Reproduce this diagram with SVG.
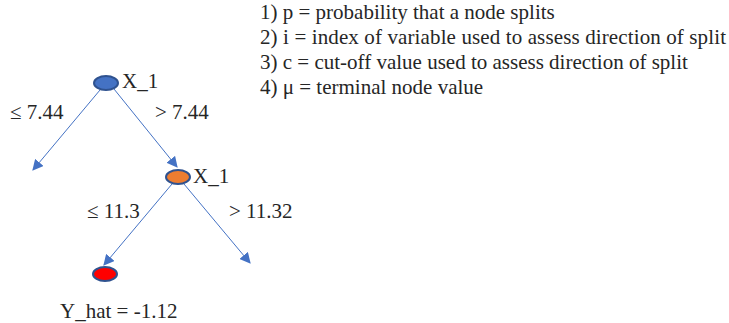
<svg xmlns="http://www.w3.org/2000/svg" width="729" height="323" viewBox="0 0 729 323">
<defs>
<style>
text{font-family:'Liberation Serif','DejaVu Serif',serif;font-size:21px;fill:#262626}
.e{stroke:#2F528F;stroke-width:2}
.c{stroke:#4472C4;stroke-width:1;fill:none;marker-end:url(#ah)}
</style>
<marker id="ah" viewBox="0 0 10 10" refX="9" refY="5" markerWidth="11" markerHeight="11" markerUnits="userSpaceOnUse" orient="auto"><path d="M0,0 L10,5 L0,10 z" fill="#4472C4"/></marker>
</defs>
<g id="legend" font-family="Liberation Serif, serif">
<text x="260" y="19">1) p = probability that a node splits</text>
<text x="260" y="44" textLength="466" lengthAdjust="spacing">2) i = index of variable used to assess direction of split</text>
<text x="260" y="69">3) c = cut-off value used to assess direction of split</text>
<text x="260" y="94">4) μ = terminal node value</text>
</g>
<g id="connectors">
<line class="c" x1="100" y1="90" x2="33" y2="170"/>
<line class="c" x1="114" y1="89" x2="177" y2="167"/>
<line class="c" x1="172" y1="184" x2="104" y2="265"/>
<line class="c" x1="184" y1="184" x2="250" y2="263"/>
<text x="10" y="119">≤ 7.44</text>
<text x="155" y="119">&gt; 7.44</text>
<text x="87" y="218">≤ 11.3</text>
<text x="229" y="218">&gt; 11.32</text>
</g>
<g id="root">
<ellipse class="e" cx="106" cy="83" rx="12" ry="7" fill="#4472C4"/>
<text x="122" y="88">X_1</text>
</g>
<g id="split2">
<ellipse class="e" cx="178" cy="177" rx="12" ry="7" fill="#ED7D31"/>
<text x="193" y="183">X_1</text>
</g>
<g id="leaf">
<ellipse class="e" cx="105" cy="274" rx="12" ry="7" fill="#FF0000"/>
<text x="60" y="318">Y_hat = -1.12</text>
</g>
</svg>
